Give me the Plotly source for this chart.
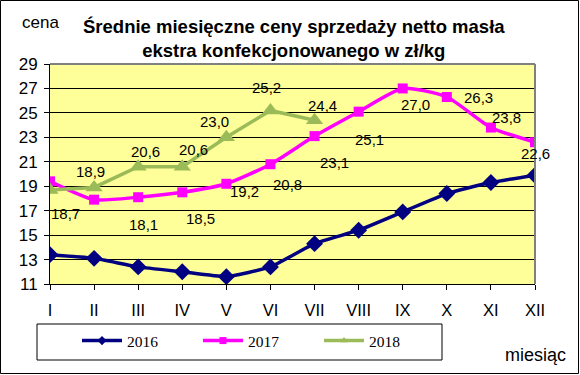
import plotly.graph_objects as go

months = ["I", "II", "III", "IV", "V", "VI", "VII", "VIII", "IX", "X", "XI", "XII"]
y2016 = [13.4, 13.1, 12.4, 12.0, 11.6, 12.4, 14.3, 15.4, 16.9, 18.4, 19.3, 19.9]
y2017 = [19.4, 17.9, 18.1, 18.5, 19.2, 20.8, 23.1, 25.1, 27.0, 26.3, 23.8, 22.6]
y2018 = [18.7, 18.9, 20.6, 20.6, 23.0, 25.2, 24.4]
years = ["2016", "2017", "2018"]
yticks = list(range(11, 30, 2))

# label offsets (px) for data labels
lab2017_idx = [2, 3, 4, 5, 6, 7, 8, 9, 10, 11]
lab2017_off = [(5, -27), (18, -26), (18, -8), (17, -20), (20, -26), (11, -28),
               (13, -16), (32, 0), (16, 10), (0, -11)]
lab2018_off = [(15, -24), (-4, 16), (7, 15), (11, 17), (-12, 16), (-4, 23), (8, 15)]

C16, C17, C18 = "#000080", "#FF00FF", "#9BBB59"
colors = [C16, C17, C18]
symbols = ["diamond", "square", "triangle-up"]

fig = go.Figure()
fig.add_trace(go.Scatter(x=months, y=y2016, name=years[0], mode="lines+markers", showlegend=False,
                         line=dict(color=C16, width=3.5, shape="spline", smoothing=0.4),
                         marker=dict(symbol="diamond", size=13, color=C16)))
fig.add_trace(go.Scatter(x=months, y=y2017, name=years[1], mode="lines+markers", showlegend=False,
                         line=dict(color=C17, width=3.5, shape="spline", smoothing=0.6),
                         marker=dict(symbol="square", size=10, color=C17)))
fig.add_trace(go.Scatter(x=months[:len(y2018)], y=y2018, name=years[2], mode="lines+markers",
                         showlegend=False, line=dict(color=C18, width=3.5),
                         marker=dict(symbol="triangle-up", size=15, color=C18)))
# legend entries (small markers as in the original)
for yr, c, s in zip(years, colors, symbols):
    fig.add_trace(go.Scatter(x=[None], y=[None], name=yr, mode="lines+markers",
                             line=dict(color=c, width=3.5),
                             marker=dict(symbol=s, size=7, color=c)))

def fmt(v):
    return f"{v:.1f}".replace(".", ",")

LF = dict(size=15, color="black", family="Liberation Sans, Arial")
ann = []
for i, (dx, dy) in zip(lab2017_idx, lab2017_off):
    ann.append(dict(x=months[i], y=y2017[i], text=fmt(y2017[i]), showarrow=False,
                    xshift=dx, yshift=dy, font=LF))
for i, (dx, dy) in enumerate(lab2018_off):
    ann.append(dict(x=months[i], y=y2018[i], text=fmt(y2018[i]), showarrow=False,
                    xshift=dx, yshift=dy, font=LF))

W, H = 580, 375
L, R, T, B = 50, 45, 64, 91
pw, ph = W - L - R, H - T - B
def px(xp):
    return (xp - L) / pw
def py(yp):
    return (H - B - yp) / ph

ann.append(dict(xref="paper", yref="paper", x=px(40), y=py(22), text="cena", showarrow=False,
                xanchor="center", yanchor="middle",
                font=dict(size=17, color="black", family="Liberation Sans, Arial")))
ann.append(dict(xref="paper", yref="paper", x=px(294), y=py(38),
                text="<b>Średnie miesięczne ceny sprzedaży netto masła<br>ekstra konfekcjonowanego w zł/kg</b>",
                showarrow=False, xanchor="center", yanchor="middle",
                font=dict(size=18.5, color="black", family="Liberation Sans, Arial")))
ann.append(dict(xref="paper", yref="paper", x=px(535), y=py(355), text="miesiąc", showarrow=False,
                xanchor="center", yanchor="middle",
                font=dict(size=18, color="black", family="Liberation Sans, Arial")))

shapes = [
    dict(type="rect", xref="paper", yref="paper", x0=px(0.5), x1=px(578.5), y0=py(0.5), y1=py(373.5),
         line=dict(color="black", width=1)),
    dict(type="rect", xref="paper", yref="paper", x0=px(37), x1=px(442), y0=py(324), y1=py(360),
         line=dict(color="black", width=1)),
    dict(type="line", xref="paper", yref="paper", x0=0, x1=1, y0=1, y1=1, line=dict(color="#808080", width=2)),
    dict(type="line", xref="paper", yref="paper", x0=1, x1=1, y0=0, y1=1, line=dict(color="#808080", width=2)),
]

fig.update_layout(
    width=W, height=H, margin=dict(l=L, r=R, t=T, b=B, autoexpand=False),
    paper_bgcolor="white", plot_bgcolor="#FFFF99",
    font=dict(family="Liberation Sans, Arial", color="black"),
    showlegend=True,
    legend=dict(orientation="h", x=px(77), y=py(324), xanchor="left", yanchor="top",
                font=dict(family="Liberation Serif, Times New Roman", size=15.5, color="black"),
                itemwidth=40, entrywidth=66, bgcolor="rgba(0,0,0,0)", borderwidth=0),
    annotations=ann, shapes=shapes,
)
fig.update_xaxes(type="category", range=[0, 11], showgrid=False, showline=True, linecolor="black",
                 linewidth=1, ticks="outside", ticklen=5, tickcolor="black", ticklabelstandoff=6,
                 tickfont=dict(size=16.5), zeroline=False, fixedrange=True)
fig.update_yaxes(range=[11, 29], tickvals=yticks, showgrid=True, gridcolor="black", gridwidth=1,
                 showline=True, linecolor="black", linewidth=1, ticks="outside", ticklen=5,
                 tickcolor="black", tickfont=dict(size=17), ticklabelstandoff=3,
                 zeroline=False, fixedrange=True)

fig.write_html("out.html", config={"displayModeBar": False},
               post_script="document.body.style.margin='0';document.body.style.padding='0';")
